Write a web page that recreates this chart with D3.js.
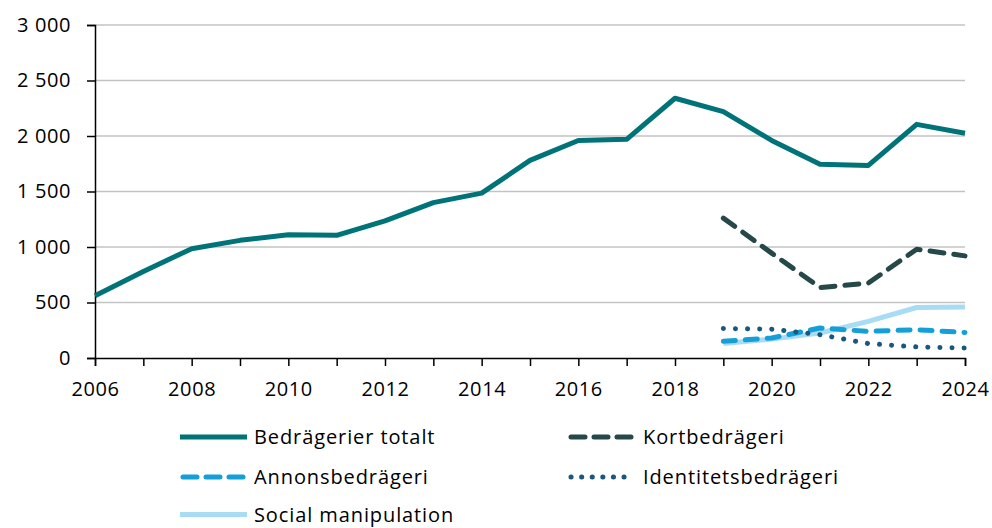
<!DOCTYPE html>
<html>
<head>
<meta charset="utf-8">
<script src="https://cdn.jsdelivr.net/npm/d3@7"></script>
<style>
  html, body { margin: 0; padding: 0; background: #fff; }
  svg { display: block; }
  text { font-family: "Open Sans", Lato, sans-serif; fill: #000; letter-spacing: 0.6px; }
  .legend text { letter-spacing: 0.9px; }
</style>
</head>
<body>
<svg id="chart" width="992" height="528"></svg>
<script>
// Years on the x axis
const years = d3.range(2006, 2025);
const yearsRecent = d3.range(2019, 2025);

// Series values (number of cases)
const totalt = [560, 780, 985, 1060, 1110, 1105, 1235, 1400, 1485, 1780, 1960, 1970, 2340, 2220, 1960, 1745, 1735, 2105, 2025];
const kort = [1260, 945, 635, 675, 980, 920];
const annons = [150, 180, 270, 240, 255, 230];
const identitet = [265, 260, 210, 130, 100, 90];
const social = [130, 170, 225, 330, 455, 460];

// Axis ticks
const yTicks = [0, 500, 1000, 1500, 2000, 2500, 3000];
const xLabelYears = [2006, 2008, 2010, 2012, 2014, 2016, 2018, 2020, 2022, 2024];

const series = [
  { name: "Bedrägerier totalt", x: years, values: totalt, color: "#007378", width: 5, dash: null, cap: "butt" },
  { name: "Kortbedrägeri", x: yearsRecent, values: kort, color: "#264848", width: 5, dash: "14 10", cap: "round" },
  { name: "Annonsbedrägeri", x: yearsRecent, values: annons, color: "#159fd8", width: 5, dash: "12 10", cap: "round" },
  { name: "Identitetsbedrägeri", x: yearsRecent, values: identitet, color: "#18587e", width: 5, dash: "0.1 12", cap: "round" },
  { name: "Social manipulation", x: yearsRecent, values: social, color: "#a8dcf5", width: 5, dash: null, cap: "butt" }
];

const svg = d3.select("#chart");
const margin = { left: 95, right: 27, top: 25, bottom: 170 };
const W = 992, H = 528;

const x = d3.scaleLinear().domain([2006, 2024]).range([margin.left, W - margin.right]);
const y = d3.scaleLinear().domain([0, 3000]).range([H - margin.bottom, margin.top]);

const fmt = v => d3.format(",")(v).replace(/,/g, " ");

// Horizontal gridlines
svg.append("g")
  .selectAll("line")
  .data(yTicks.filter(t => t > 0))
  .join("line")
  .attr("x1", x(2006)).attr("x2", x(2024))
  .attr("y1", d => y(d)).attr("y2", d => y(d))
  .attr("stroke", "#c3c3c3").attr("stroke-width", 1.5);

// Y axis
const yAxis = svg.append("g")
  .attr("transform", `translate(${x(2006)},0)`)
  .call(d3.axisLeft(y).tickValues(yTicks).tickFormat(fmt).tickSize(8).tickPadding(16));
yAxis.select(".domain").attr("stroke", "#000").attr("stroke-width", 1.5);
yAxis.selectAll(".tick line").attr("stroke", "#000").attr("stroke-width", 1.5);
yAxis.selectAll("text").style("font-size", "20px").style("font-family", "'Open Sans', sans-serif").attr("fill", "#000");

// X axis: tick at every year, label every second year
const xAxis = svg.append("g")
  .attr("transform", `translate(0,${y(0)})`)
  .call(d3.axisBottom(x).tickValues(years).tickFormat(d => xLabelYears.includes(d) ? d : "").tickSize(8).tickPadding(16));
xAxis.select(".domain").attr("stroke", "#000").attr("stroke-width", 1.5);
xAxis.selectAll(".tick line").attr("stroke", "#000").attr("stroke-width", 1.5);
xAxis.selectAll("text").style("font-size", "20px").style("font-family", "'Open Sans', sans-serif").attr("fill", "#000");

// Series lines (drawn back to front)
const line = d3.line().x(d => x(d[0])).y(d => y(d[1]));
const drawOrder = [4, 2, 3, 1, 0];
drawOrder.forEach(i => {
  const s = series[i];
  svg.append("path")
    .datum(s.x.map((yr, k) => [yr, s.values[k]]))
    .attr("d", line)
    .attr("fill", "none")
    .attr("stroke", s.color)
    .attr("stroke-width", s.width)
    .attr("stroke-linecap", s.cap)
    .attr("stroke-linejoin", "round")
    .attr("stroke-dasharray", s.dash);
});

// Legend
const legendPos = [
  { x: 180, y: 437 }, { x: 568, y: 437 },
  { x: 180, y: 477 }, { x: 568, y: 477 },
  { x: 180, y: 514.5 }
];
const legend = svg.append("g").attr("class", "legend");
series.forEach((s, i) => {
  const p = legendPos[i];
  const g = legend.append("g").attr("transform", `translate(${p.x},${p.y})`);
  g.append("line")
    .attr("x1", s.cap === "round" ? 3 : 0).attr("x2", s.cap === "round" ? 63 : 67)
    .attr("y1", 0).attr("y2", 0)
    .attr("stroke", s.color)
    .attr("stroke-width", s.width)
    .attr("stroke-linecap", s.cap)
    .attr("stroke-dasharray", s.dash === "0.1 12" ? "0.1 10.5" : (s.dash ? "14 9" : null));
  g.append("text")
    .attr("x", i % 2 === 0 ? 74 : 75)
    .attr("y", 0)
    .attr("dy", "0.36em")
    .style("font-size", "20px")
    .text(s.name);
});
</script>
</body>
</html>
